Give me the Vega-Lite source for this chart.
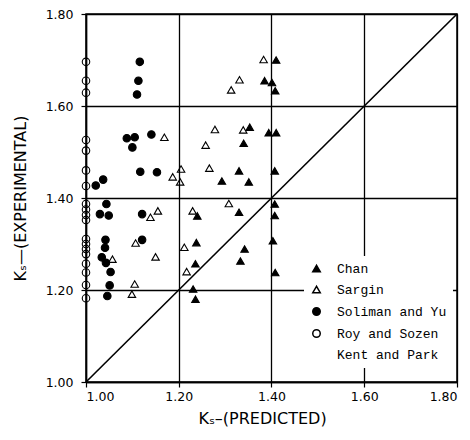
{
  "$schema": "https://vega.github.io/schema/vega-lite/v6.json",
  "width": 371,
  "height": 368,
  "autosize": {"type": "none"},
  "padding": {"left": 86, "top": 14, "right": 13, "bottom": 58},
  "background": "white",
  "config": {"view": {"stroke": "black", "strokeWidth": 1.5}, "font": "DejaVu Sans"},
  "data": {"values": [
    {"study": "Chan", "predicted": 1.410, "experimental": 1.700},
    {"study": "Chan", "predicted": 1.385, "experimental": 1.655},
    {"study": "Chan", "predicted": 1.401, "experimental": 1.651},
    {"study": "Chan", "predicted": 1.408, "experimental": 1.633},
    {"study": "Chan", "predicted": 1.353, "experimental": 1.554},
    {"study": "Chan", "predicted": 1.394, "experimental": 1.542},
    {"study": "Chan", "predicted": 1.410, "experimental": 1.542},
    {"study": "Chan", "predicted": 1.340, "experimental": 1.519},
    {"study": "Chan", "predicted": 1.330, "experimental": 1.459},
    {"study": "Chan", "predicted": 1.407, "experimental": 1.459},
    {"study": "Chan", "predicted": 1.293, "experimental": 1.437},
    {"study": "Chan", "predicted": 1.351, "experimental": 1.435},
    {"study": "Chan", "predicted": 1.330, "experimental": 1.369},
    {"study": "Chan", "predicted": 1.407, "experimental": 1.387},
    {"study": "Chan", "predicted": 1.407, "experimental": 1.362},
    {"study": "Chan", "predicted": 1.240, "experimental": 1.361},
    {"study": "Chan", "predicted": 1.238, "experimental": 1.303},
    {"study": "Chan", "predicted": 1.403, "experimental": 1.307},
    {"study": "Chan", "predicted": 1.342, "experimental": 1.289},
    {"study": "Chan", "predicted": 1.333, "experimental": 1.263},
    {"study": "Chan", "predicted": 1.408, "experimental": 1.238},
    {"study": "Chan", "predicted": 1.236, "experimental": 1.257},
    {"study": "Chan", "predicted": 1.231, "experimental": 1.202},
    {"study": "Chan", "predicted": 1.236, "experimental": 1.180},
    {"study": "Sargin", "predicted": 1.383, "experimental": 1.701},
    {"study": "Sargin", "predicted": 1.331, "experimental": 1.657},
    {"study": "Sargin", "predicted": 1.313, "experimental": 1.635},
    {"study": "Sargin", "predicted": 1.278, "experimental": 1.549},
    {"study": "Sargin", "predicted": 1.339, "experimental": 1.548},
    {"study": "Sargin", "predicted": 1.258, "experimental": 1.515},
    {"study": "Sargin", "predicted": 1.169, "experimental": 1.532},
    {"study": "Sargin", "predicted": 1.266, "experimental": 1.465},
    {"study": "Sargin", "predicted": 1.205, "experimental": 1.463},
    {"study": "Sargin", "predicted": 1.187, "experimental": 1.446},
    {"study": "Sargin", "predicted": 1.203, "experimental": 1.435},
    {"study": "Sargin", "predicted": 1.308, "experimental": 1.388},
    {"study": "Sargin", "predicted": 1.155, "experimental": 1.372},
    {"study": "Sargin", "predicted": 1.139, "experimental": 1.358},
    {"study": "Sargin", "predicted": 1.230, "experimental": 1.372},
    {"study": "Sargin", "predicted": 1.107, "experimental": 1.302},
    {"study": "Sargin", "predicted": 1.212, "experimental": 1.293},
    {"study": "Sargin", "predicted": 1.057, "experimental": 1.267},
    {"study": "Sargin", "predicted": 1.150, "experimental": 1.272},
    {"study": "Sargin", "predicted": 1.217, "experimental": 1.240},
    {"study": "Sargin", "predicted": 1.105, "experimental": 1.213},
    {"study": "Sargin", "predicted": 1.099, "experimental": 1.191},
    {"study": "Soliman and Yu", "predicted": 1.116, "experimental": 1.696},
    {"study": "Soliman and Yu", "predicted": 1.113, "experimental": 1.655},
    {"study": "Soliman and Yu", "predicted": 1.110, "experimental": 1.625},
    {"study": "Soliman and Yu", "predicted": 1.088, "experimental": 1.530},
    {"study": "Soliman and Yu", "predicted": 1.105, "experimental": 1.532},
    {"study": "Soliman and Yu", "predicted": 1.100, "experimental": 1.510},
    {"study": "Soliman and Yu", "predicted": 1.141, "experimental": 1.538},
    {"study": "Soliman and Yu", "predicted": 1.117, "experimental": 1.457},
    {"study": "Soliman and Yu", "predicted": 1.153, "experimental": 1.456},
    {"study": "Soliman and Yu", "predicted": 1.021, "experimental": 1.427},
    {"study": "Soliman and Yu", "predicted": 1.037, "experimental": 1.440},
    {"study": "Soliman and Yu", "predicted": 1.044, "experimental": 1.387},
    {"study": "Soliman and Yu", "predicted": 1.030, "experimental": 1.365},
    {"study": "Soliman and Yu", "predicted": 1.049, "experimental": 1.362},
    {"study": "Soliman and Yu", "predicted": 1.121, "experimental": 1.365},
    {"study": "Soliman and Yu", "predicted": 1.042, "experimental": 1.309},
    {"study": "Soliman and Yu", "predicted": 1.041, "experimental": 1.292},
    {"study": "Soliman and Yu", "predicted": 1.121, "experimental": 1.309},
    {"study": "Soliman and Yu", "predicted": 1.034, "experimental": 1.271},
    {"study": "Soliman and Yu", "predicted": 1.043, "experimental": 1.259},
    {"study": "Soliman and Yu", "predicted": 1.053, "experimental": 1.239},
    {"study": "Soliman and Yu", "predicted": 1.051, "experimental": 1.210},
    {"study": "Soliman and Yu", "predicted": 1.046, "experimental": 1.187},
    {"study": "Roy and Sozen", "predicted": 1.0, "experimental": 1.696},
    {"study": "Roy and Sozen", "predicted": 1.0, "experimental": 1.655},
    {"study": "Roy and Sozen", "predicted": 1.0, "experimental": 1.629},
    {"study": "Roy and Sozen", "predicted": 1.0, "experimental": 1.526},
    {"study": "Roy and Sozen", "predicted": 1.0, "experimental": 1.503},
    {"study": "Roy and Sozen", "predicted": 1.0, "experimental": 1.460},
    {"study": "Roy and Sozen", "predicted": 1.0, "experimental": 1.426},
    {"study": "Roy and Sozen", "predicted": 1.0, "experimental": 1.387},
    {"study": "Roy and Sozen", "predicted": 1.0, "experimental": 1.375},
    {"study": "Roy and Sozen", "predicted": 1.0, "experimental": 1.363},
    {"study": "Roy and Sozen", "predicted": 1.0, "experimental": 1.352},
    {"study": "Roy and Sozen", "predicted": 1.0, "experimental": 1.311},
    {"study": "Roy and Sozen", "predicted": 1.0, "experimental": 1.300},
    {"study": "Roy and Sozen", "predicted": 1.0, "experimental": 1.289},
    {"study": "Roy and Sozen", "predicted": 1.0, "experimental": 1.278},
    {"study": "Roy and Sozen", "predicted": 1.0, "experimental": 1.257},
    {"study": "Roy and Sozen", "predicted": 1.0, "experimental": 1.238},
    {"study": "Roy and Sozen", "predicted": 1.0, "experimental": 1.211},
    {"study": "Roy and Sozen", "predicted": 1.0, "experimental": 1.182}
  ]},
  "encoding": {
    "x": {
      "field": "predicted", "type": "quantitative",
      "scale": {"domain": [1, 1.8], "nice": false, "zero": false},
      "axis": {
        "values": [1, 1.2, 1.4, 1.6, 1.8], "format": ".2f",
        "title": "Kₛ–(PREDICTED)",
        "grid": true, "gridColor": "black", "gridOpacity": 1, "gridWidth": 1.3,
        "domainColor": "black", "domainWidth": 1.5,
        "tickColor": "black", "tickSize": 5, "tickWidth": 1.2,
        "labelFont": "DejaVu Sans", "labelFontSize": 12.5, "labelColor": "black", "labelPadding": 3,
        "titleFont": "DejaVu Sans", "titleFontSize": 16, "titleFontWeight": "normal", "titleColor": "black",
        "titleX": 176, "titleY": 36, "titleBaseline": "middle", "titleAlign": "center"
      }
    },
    "y": {
      "field": "experimental", "type": "quantitative",
      "scale": {"domain": [1, 1.8], "nice": false, "zero": false},
      "axis": {
        "values": [1, 1.2, 1.4, 1.6, 1.8], "format": ".2f",
        "title": "Kₛ—(EXPERIMENTAL)",
        "grid": true, "gridColor": "black", "gridOpacity": 1, "gridWidth": 1.3,
        "domainColor": "black", "domainWidth": 1.5,
        "tickColor": "black", "tickSize": 5, "tickWidth": 1.2,
        "labelFont": "DejaVu Sans", "labelFontSize": 12.5, "labelColor": "black", "labelPadding": 8,
        "titleFont": "DejaVu Sans", "titleFontSize": 16, "titleFontWeight": "normal", "titleColor": "black",
        "titleX": -66, "titleY": 184, "titleAngle": 270, "titleBaseline": "middle", "titleAlign": "center"
      }
    }
  },
  "layer": [
    {
      "data": {"values": [{"predicted": 1.0, "experimental": 1.0}, {"predicted": 1.8, "experimental": 1.8}]},
      "mark": {"type": "line", "color": "black", "strokeWidth": 1.6}
    },
    {
      "mark": {"type": "point", "filled": true, "stroke": "black", "strokeWidth": 1.1, "opacity": 1},
      "encoding": {
        "shape": {
          "field": "study", "type": "nominal",
          "scale": {"domain": ["Chan", "Sargin", "Soliman and Yu", "Roy and Sozen", "Kent and Park"],
                    "range": ["triangle-up", "triangle-up", "circle", "circle", "M0,0"]},
          "legend": {"orient": "none", "legendX": 218, "legendY": 242, "title": null, "fillColor": "white", "padding": 6,
                     "labelFont": "Liberation Mono", "labelFontSize": 13, "labelColor": "black", "rowPadding": 7, "labelOffset": 14,
                     "encode": {"symbols": {"update": {"stroke": {"value": "black"}, "strokeWidth": {"value": 1.1}, "size": {"value": 38}}}}}
        },
        "fill": {
          "field": "study", "type": "nominal",
          "scale": {"domain": ["Chan", "Sargin", "Soliman and Yu", "Roy and Sozen", "Kent and Park"],
                    "range": ["black", "transparent", "black", "transparent", "transparent"]},
          "legend": {"orient": "none", "legendX": 218, "legendY": 242, "title": null, "fillColor": "white", "padding": 6,
                     "labelFont": "Liberation Mono", "labelFontSize": 13, "labelColor": "black", "rowPadding": 7, "labelOffset": 14,
                     "encode": {"symbols": {"update": {"stroke": {"value": "black"}, "strokeWidth": {"value": 1.1}, "size": {"value": 38}}}}}
        },
        "size": {
          "field": "study", "type": "nominal",
          "scale": {"domain": ["Chan", "Sargin", "Soliman and Yu", "Roy and Sozen", "Kent and Park"],
                    "range": [56, 56, 22, 24, 0]},
          "legend": {"orient": "none", "legendX": 218, "legendY": 242, "title": null, "fillColor": "white", "padding": 6,
                     "labelFont": "Liberation Mono", "labelFontSize": 13, "labelColor": "black", "rowPadding": 7, "labelOffset": 14,
                     "encode": {"symbols": {"update": {"stroke": {"value": "black"}, "strokeWidth": {"value": 1.1}, "size": {"value": 38}}}}}
        }
      }
    }
  ]
}
